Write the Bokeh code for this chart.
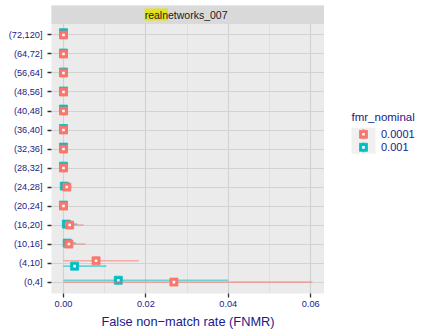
from bokeh.plotting import figure
from bokeh.layouts import row
from bokeh.models import Range1d, FixedTicker, Label, BoxAnnotation, ColumnDataSource
from bokeh.core.properties import value
from bokeh.embed import file_html
from bokeh.resources import INLINE

# ---------------- data ----------------
categories = ["(0,4]", "(4,10]", "(10,16]", "(16,20]", "(20,24]", "(24,28]", "(28,32]",
              "(32,36]", "(36,40]", "(40,48]", "(48,56]", "(56,64]", "(64,72]", "(72,120]"]
series_names = ["0.0001", "0.001"]
series_colors = ["#F8766D", "#00BFC4"]

fnmr_0001 = [0.0268, 0.0079, 0.0013, 0.0015, 0.0, 0.0008, 0.0, 0.0, 0.0, 0.0, 0.0, 0.0, 0.0, 0.0]
lo_0001 = [0.0, 0.0, 0.0003, 0.0002, 0.0, 0.0001, 0.0, 0.0, 0.0, 0.0, 0.0, 0.0, 0.0, 0.0]
hi_0001 = [0.0604, 0.0183, 0.0053, 0.0049, 0.0, 0.0021, 0.0, 0.0, 0.0, 0.0, 0.0, 0.0, 0.0, 0.0]
jit_0001 = [0.0, 0.12, 0.0, 0.0, 0.0, 0.0, 0.0, 0.0, 0.0, 0.0, 0.0, 0.0, 0.0, 0.0]

fnmr_001 = [0.0133, 0.0027, 0.0009, 0.0007, 0.0, 0.0002, 0.0, 0.0, 0.0, 0.0, 0.0, 0.0, 0.0, 0.0]
lo_001 = [0.0, 0.0, 0.0002, 0.0001, 0.0, 0.0, 0.0, 0.0, 0.0, 0.0, 0.0, 0.0, 0.0, 0.0]
hi_001 = [0.0400, 0.0104, 0.0030, 0.0033, 0.0, 0.0010, 0.0, 0.0, 0.0, 0.0, 0.0, 0.0, 0.0, 0.0]
jit_001 = [0.1, -0.16, 0.05, 0.05, 0.05, 0.05, 0.1, 0.1, 0.08, 0.1, 0.05, 0.05, 0.05, 0.12]

x_ticks = [0.0, 0.02, 0.04, 0.06]
x_minor = [0.01, 0.03, 0.05]
x_tick_labels = ["0.00", "0.02", "0.04", "0.06"]
strip_title = ("realn", "etworks_007")
x_title = "False non\u2212match rate (FNMR)"
legend_title = "fmr_nominal"

TXT = "#1a1a8a"
FONT = "Liberation Sans"
n = len(categories)

# ---------------- main panel ----------------
p = figure(width=324, height=332, output_backend="svg", toolbar_location=None,
           x_range=Range1d(-0.00291, 0.06335), y_range=Range1d(0.4, n + 1.55),
           min_border_left=51, min_border_right=0, min_border_top=5, min_border_bottom=39)
p.background_fill_color = "#ebebeb"
p.border_fill_color = "white"
p.outline_line_color = None

p.xaxis.ticker = FixedTicker(ticks=x_ticks, minor_ticks=x_minor)
p.xaxis.major_label_overrides = {t: l for t, l in zip(x_ticks, x_tick_labels)}
p.yaxis.ticker = FixedTicker(ticks=list(range(1, n + 1)))
p.yaxis.major_label_overrides = {i + 1: c for i, c in enumerate(categories)}

for ax in (p.xaxis[0], p.yaxis[0]):
    ax.axis_line_color = None
    ax.major_tick_line_color = "#333333"
    ax.major_tick_line_width = 1.3
    ax.major_tick_out = 4
    ax.major_tick_in = 0
    ax.minor_tick_line_color = None
    ax.major_label_text_font = FONT
    ax.major_label_text_font_size = "9.2px"
    ax.major_label_text_color = TXT
p.xaxis.major_label_standoff = 3
p.yaxis.major_label_standoff = 5
p.xaxis.axis_label = x_title
p.xaxis.axis_label_text_font = FONT
p.xaxis.axis_label_text_font_size = "12.8px"
p.xaxis.axis_label_text_font_style = "normal"
p.xaxis.axis_label_text_color = TXT
p.xaxis.axis_label_standoff = 4

p.xgrid.ticker = FixedTicker(ticks=x_ticks, minor_ticks=x_minor)
p.xgrid.grid_line_color = "#d2d2d2"
p.xgrid.grid_line_width = 1.1
p.xgrid.minor_grid_line_color = "#e0e0e0"
p.xgrid.minor_grid_line_width = 1
p.ygrid.ticker = FixedTicker(ticks=list(range(1, n + 1)))
p.ygrid.grid_line_color = "#d2d2d2"
p.ygrid.grid_line_width = 1.1

series = [
    (fnmr_001, lo_001, hi_001, jit_001, series_colors[1]),
    (fnmr_0001, lo_0001, hi_0001, jit_0001, series_colors[0]),
]
for vals, lo, hi, jit, col in series:
    ys = [i + 1 + j for i, j in enumerate(jit)]
    src = ColumnDataSource(dict(x=vals, lo=lo, hi=hi, y=ys))
    p.segment(x0="lo", x1="hi", y0="y", y1="y", source=src, line_color=col,
              line_alpha=0.55, line_width=1.6)
    p.scatter(x="x", y="y", source=src, marker="square", size=8,
              fill_color=col, line_color=col, line_alpha=0.8)
    p.scatter(x="x", y="y", source=src, marker="square", size=2.6,
              fill_color="white", line_color=None)

# facet strip
strip = BoxAnnotation(bottom=n + 0.6, fill_color="#d9d9d9", fill_alpha=1.0,
                      line_color="#c6c6c6", line_width=1)
p.add_layout(strip)
xc = (p.x_range.start + p.x_range.end) / 2
ys_strip = n + 0.6 + (n + 1.55 - (n + 0.6)) / 2
p.add_layout(Label(x=xc, y=ys_strip, x_offset=-20, text=strip_title[0], text_align="right",
                   text_baseline="middle", text_font=FONT, text_font_size="10.5px",
                   text_color="#1a1a1a", background_fill_color="#e2e21e"))
p.add_layout(Label(x=xc, y=ys_strip, x_offset=-20, text=strip_title[1], text_align="left",
                   text_baseline="middle", text_font=FONT, text_font_size="10.5px",
                   text_color="#1a1a1a"))

# ---------------- legend panel ----------------
lg = figure(width=107, height=332, output_backend="svg", toolbar_location=None,
            x_range=Range1d(0, 107), y_range=Range1d(332, 0),
            min_border=0, min_border_left=0, min_border_right=0,
            min_border_top=0, min_border_bottom=0)
lg.axis.visible = False
lg.grid.visible = False
lg.outline_line_color = None
lg.background_fill_color = "white"
lg.border_fill_color = "white"

key_left, key_right = 27, 51
key_top, key_h = 141, 15
kc = (key_left + key_right) / 2
legend_order = [(series_names[0], series_colors[0]), (series_names[1], series_colors[1])]
lg.text(x=[key_left], y=[129], text=[legend_title], text_font=value(FONT),
        text_font_size="11.5px", text_color=TXT, text_baseline="middle", text_align="left")
lg.quad(left=[key_left], right=[key_right], top=[key_top], bottom=[key_top + key_h * len(legend_order)],
        fill_color="#f0f0f0", line_color=None)
for k, (name, col) in enumerate(legend_order):
    yc = key_top + key_h * k + key_h / 2
    lg.segment(x0=[kc], x1=[kc], y0=[yc - 6], y1=[yc + 6], line_color=col, line_alpha=0.6, line_width=1.8)
    lg.scatter(x=[kc], y=[yc], marker="square", size=8, fill_color=col, line_color=col, line_alpha=0.8)
    lg.scatter(x=[kc], y=[yc], marker="square", size=2.6, fill_color="white", line_color=None)
    lg.text(x=[key_right + 5.5], y=[yc], text=[name], text_font=value(FONT),
            text_font_size="11px", text_color=TXT, text_baseline="middle", text_align="left")

layout = row(p, lg, spacing=0)
open("out.html", "w").write(file_html(layout, INLINE))
